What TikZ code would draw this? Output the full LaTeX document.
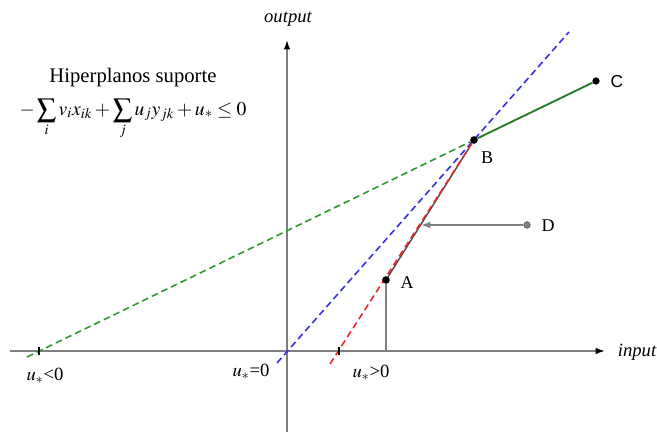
\documentclass[tikz,border=0pt]{standalone}
\usepackage{mathptmx}
\usepackage{fontspec}
\setmainfont{Liberation Serif}
\newfontfamily\csans{Liberation Sans}
\usetikzlibrary{arrows.meta}
\definecolor{axisgray}{HTML}{7F7F7F}
\definecolor{mygreen}{HTML}{2E9A2E}
\definecolor{myblue}{HTML}{3434E0}
\definecolor{myred}{HTML}{F02828}
\tikzset{
  axis/.style={axisgray, line width=1.3pt, -{Latex[black,length=7pt,width=5pt]}},
  dot/.style={circle, fill=black, inner sep=0pt, minimum size=5.5pt},
  gdot/.style={circle, fill=axisgray, draw=axisgray!70!black, inner sep=0pt, minimum size=5pt},
  lbl/.style={font=\fontsize{13.5}{16}\selectfont, inner sep=0pt},
  ulbl/.style={font=\fontsize{14}{16}\selectfont, inner sep=0pt},
  dashln/.style={line width=1.2pt, dash pattern=on 5pt off 3pt},
}
\newcommand{\bigsum}{\mathop{\vcenter{\hbox{\scalebox{1.4}{$\sum$}}}}}
\begin{document}
\begin{tikzpicture}[x=0.75pt,y=-0.75pt]
\useasboundingbox (0,0) rectangle (657,434);
% axes
\coordinate (xs) at (10,351);
\coordinate (xe) at (605,351);
\coordinate (ys) at (287,432);
\coordinate (ye) at (287,40);
\draw[axis] (xs) -- (xe);
\draw[axis] (ys) -- (ye);
\node[font=\fontsize{14}{16}\selectfont\itshape, inner sep=0pt] (outl) at (288,19) {output};
\node[font=\fontsize{14}{16}\selectfont\itshape, inner sep=0pt] (inl) at (637,352) {input};
% points
\node[dot] (A) at (386,280) {};
\node[dot] (B) at (474,140) {};
\node[dot] (C) at (596,81) {};
\node[gdot] (D) at (527,225) {};
\coordinate (Afoot) at (386,351);
\coordinate (Dhit) at (421,225);
% free ends of dashed lines
\coordinate (r0) at (330,364);
\coordinate (b0) at (277,363);
\coordinate (b1) at (569,32);
\coordinate (g0) at (27,357);
% lines
\draw[axisgray, line width=1.2pt] (A) -- (Afoot);
\draw[mygreen, dashln] (g0) -- (B);
\draw[myblue, dashln] (b0) -- (b1);
\draw[black!70, line width=1.1pt] (A) -- (B);
\draw[myred, dashln] (r0) -- (B);
\draw[mygreen!80!black, line width=1.4pt] (B) -- (C);
\draw[axisgray, line width=1.1pt, -{Latex[length=7pt,width=5pt]}] (D) -- (Dhit);
\node[dot] at (A) {};
\node[dot] at (B) {};
% ticks
\coordinate (t1) at (39,351);
\coordinate (t2) at (339,351);
\draw[black, line width=0.8pt] ([yshift=-3pt]t1) -- ([yshift=3pt]t1);
\draw[black, line width=0.8pt] ([yshift=-3pt]t2) -- ([yshift=3pt]t2);
% labels
\node[lbl] (Al) at (407,283) {A};
\node[lbl] (Bl) at (487,158) {B};
\node[lbl, font=\fontsize{13}{16}\selectfont\csans] (Cl) at (617,82) {C};
\node[lbl] (Dl) at (548,226) {D};
\node[ulbl] (u1) at (45,376) {$u_*$<0};
\node[ulbl] (u2) at (251,372) {$u_*$=0};
\node[ulbl] (u3) at (371,373) {$u_*$>0};
\node[font=\fontsize{15.5}{18}\selectfont, inner sep=0pt] (title) at (133,78) {Hiperplanos suporte};
\node[font=\fontsize{14.7}{18}\selectfont, inner sep=0pt] (form) at (133,119) {$-\bigsum\limits_i v_i x_{ik} + \bigsum\limits_j u_j y_{jk} + u_* \leq 0$};
\end{tikzpicture}
\end{document}
